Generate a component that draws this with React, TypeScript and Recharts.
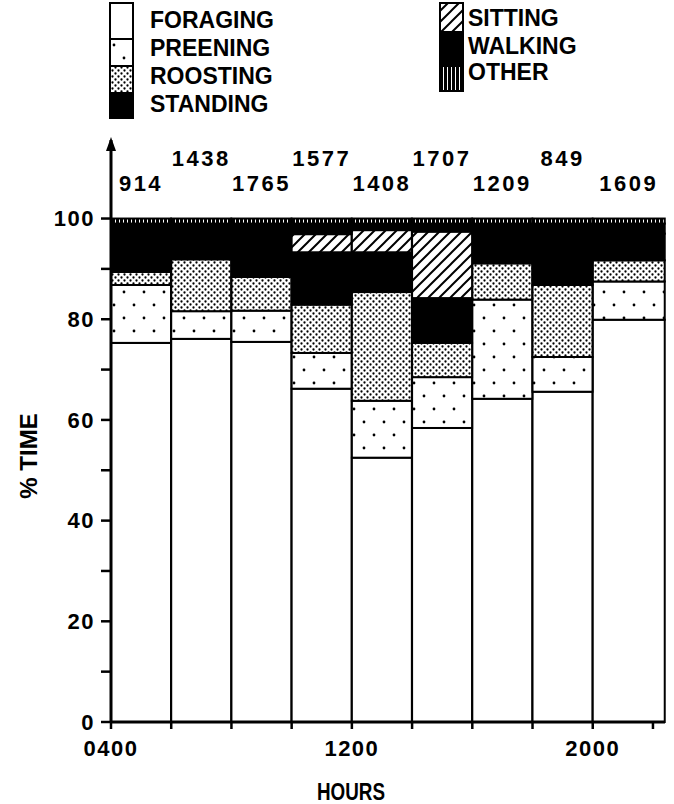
import React from "react";
import { BarChart, Bar, XAxis, YAxis, Legend, LabelList } from "recharts";

// ---- data ----
const periodStart = [4, 6, 8, 10, 12, 14, 16, 18, 20];
const periodEnd = [6, 8, 10, 12, 14, 16, 18, 20, 22.4];
const sampleSizes = [914, 1438, 1765, 1577, 1408, 1707, 1209, 849, 1609];

const foraging = [75.3, 76.1, 75.5, 66.2, 52.5, 58.4, 64.2, 65.6, 79.9];
const preening = [11.5, 5.5, 6.2, 7.1, 11.3, 10.1, 19.7, 6.9, 7.6];
const roosting = [2.6, 10.3, 6.7, 9.6, 21.6, 6.8, 7.2, 14.3, 4.2];
const standing = [7.1, 5.1, 8.6, 10.4, 7.9, 8.9, 5.9, 10.2, 5.3];
const sitting = [0, 0, 0, 3.6, 4.4, 13.2, 0, 0, 0];
const walking = [2.5, 2, 2, 2.1, 1.3, 1.6, 2, 2, 2];
const other = [1, 1, 1, 1, 1, 1, 1, 1, 1];

const xTicks = [4, 6, 8, 10, 12, 14, 16, 18, 20, 22];
const xTickLabels: Record<number, string> = { 4: "0400", 12: "1200", 20: "2000" };
const yTicks = [0, 10, 20, 30, 40, 50, 60, 70, 80, 90, 100];

const seriesKeys = ["foraging", "preening", "roosting", "standing", "sitting", "walking", "other"];
const seriesNames = ["FORAGING", "PREENING", "ROOSTING", "STANDING", "SITTING", "WALKING", "OTHER"];
const seriesValues = [foraging, preening, roosting, standing, sitting, walking, other];

const data = periodStart.map((s, i) => {
  const row: any = { start: s, end: periodEnd[i], mid: s + 1, n: sampleSizes[i] };
  seriesKeys.forEach((k, j) => (row[k] = seriesValues[j][i]));
  return row;
});

const FONT = "'Liberation Sans', Arial, Helvetica, sans-serif";
const LEGEND_H = 125;

const fillFor = (key: string, p: string) => {
  switch (key) {
    case "foraging":
      return "#ffffff";
    case "preening":
      return `url(#${p}preen)`;
    case "roosting":
      return `url(#${p}roost)`;
    case "standing":
      return "#000000";
    case "sitting":
      return `url(#${p}sit)`;
    case "walking":
      return "#000000";
    default:
      return `url(#${p}other)`;
  }
};

const Patterns = ({ p }: { p: string }) => (
  <defs>
    <pattern id={`${p}preen`} width={20} height={26} patternUnits="userSpaceOnUse">
      <rect width={20} height={26} fill="#fff" />
      <circle cx={4} cy={6} r={1.4} fill="#000" />
      <circle cx={14} cy={19} r={1.4} fill="#000" />
    </pattern>
    <pattern id={`${p}roost`} width={6} height={6} patternUnits="userSpaceOnUse">
      <rect width={6} height={6} fill="#fff" />
      <circle cx={1.5} cy={1.5} r={1.15} fill="#000" />
      <circle cx={4.5} cy={4.5} r={1.15} fill="#000" />
    </pattern>
    <pattern id={`${p}sit`} width={11} height={11} patternUnits="userSpaceOnUse">
      <rect width={11} height={11} fill="#fff" />
      <path d="M-2,2 L2,-2 M0,11 L11,0 M9,13 L13,9" stroke="#000" strokeWidth={2} />
    </pattern>
    <pattern id={`${p}other`} width={4} height={4} patternUnits="userSpaceOnUse">
      <rect width={4} height={4} fill="#000" />
      <rect x={3} width={1} height={4} fill="#fff" />
    </pattern>
    <marker
      id={`${p}arrow`}
      viewBox="0 0 14 10"
      markerWidth={14}
      markerHeight={10}
      refX={11}
      refY={5}
      markerUnits="userSpaceOnUse"
      orient="auto-start-reverse"
    >
      <path d="M0,0 L14,5 L0,10 z" fill="#000" />
    </marker>
  </defs>
);

const Segment = (props: any) => {
  const { x, y, width, height, fill, payload } = props;
  if (!height || height <= 0.01 || !payload) return <g />;
  const pxPerHour = width / 2;
  const w = (payload.end - payload.start) * pxPerHour;
  return <rect x={x} y={y} width={w} height={height} fill={fill} stroke="#000" strokeWidth={2} />;
};

const SampleLabel = (props: any) => {
  const vb = props.viewBox || props;
  const { x, y, width } = vb;
  const index = props.index;
  const d = data[index];
  if (!d) return null;
  const cx = x + ((d.end - d.start) * width) / 4;
  const baseline = y - (index % 2 === 1 ? 52.5 : 27.5);
  return (
    <text
      x={cx}
      y={baseline}
      textAnchor="middle"
      fontFamily={FONT}
      fontWeight="bold"
      fontSize={22}
      letterSpacing={2.5}
      fill="#000"
    >
      {props.value}
    </text>
  );
};

const LegendContent = () => {
  const leftSegs = [
    [3, 39],
    [39, 66],
    [66, 93],
    [93, 118],
  ];
  const rightSegs = [
    [3, 32],
    [32, 66],
    [66, 91],
  ];
  const leftBase = [28, 56, 84, 112];
  const rightBase = [26, 54, 80];
  return (
    <svg width={674} height={LEGEND_H} style={{ display: "block" }}>
      <Patterns p="lg" />
      {leftSegs.map((s, i) => (
        <g key={seriesKeys[i]}>
          <rect x={110} y={s[0]} width={23} height={s[1] - s[0]} fill={fillFor(seriesKeys[i], "lg")} stroke="#000" strokeWidth={2} />
          <text x={150} y={leftBase[i]} fontFamily={FONT} fontWeight="bold" fontSize={23} fill="#000">
            {seriesNames[i]}
          </text>
        </g>
      ))}
      {rightSegs.map((s, i) => (
        <g key={seriesKeys[i + 4]}>
          <rect x={440} y={s[0]} width={23} height={s[1] - s[0]} fill={fillFor(seriesKeys[i + 4], "lg")} stroke="#000" strokeWidth={2} />
          <text x={468} y={rightBase[i]} fontFamily={FONT} fontWeight="bold" fontSize={23} fill="#000">
            {seriesNames[i + 4]}
          </text>
        </g>
      ))}
    </svg>
  );
};

const YLabel = () => (
  <text
    x={0}
    y={0}
    transform="translate(37,456) rotate(-90)"
    textAnchor="middle"
    fontFamily={FONT}
    fontWeight="bold"
    fontSize={24}
    fill="#000"
  >
    % TIME
  </text>
);

const XLabel = () => (
  <text
    x={351}
    y={800}
    textAnchor="middle"
    fontFamily={FONT}
    fontWeight="bold"
    fontSize={23}
    textLength={68}
    lengthAdjust="spacingAndGlyphs"
    fill="#000"
  >
    HOURS
  </text>
);

const tickStyle = { fill: "#000", fontSize: 22, fontWeight: "bold", fontFamily: FONT, letterSpacing: 1.5 };

export default function App() {
  return (
    <div style={{ position: "absolute", left: 0, top: 0, width: 674, height: 804, background: "#fff" }}>
      <BarChart
        width={674}
        height={804}
        data={data}
        margin={{ top: 140 - LEGEND_H, right: 9, bottom: 0, left: 0 }}
        barCategoryGap={0}
      >
        <Patterns p="ch" />
        <XAxis
          type="number"
          dataKey="mid"
          domain={[4, 22.4]}
          ticks={xTicks}
          interval={0}
          height={82}
          tickSize={7}
          tickMargin={11}
          tickFormatter={(v: number) => xTickLabels[v] || ""}
          tick={tickStyle}
          axisLine={{ stroke: "#000", strokeWidth: 3 }}
          tickLine={{ stroke: "#000", strokeWidth: 2.5 }}
          label={XLabel}
        />
        <YAxis
          type="number"
          domain={[0, 115.6]}
          ticks={yTicks}
          interval={0}
          width={111}
          tickSize={10}
          tickMargin={6}
          tickFormatter={(v: number) => (v % 20 === 0 ? String(v) : "")}
          tick={tickStyle}
          axisLine={{ stroke: "#000", strokeWidth: 3, markerStart: "url(#charrow)" }}
          tickLine={{ stroke: "#000", strokeWidth: 2.5 }}
          label={YLabel}
        />
        <Legend
          layout="vertical"
          align="center"
          verticalAlign="top"
          wrapperStyle={{ top: 0, left: 0, width: 674, height: LEGEND_H }}
          content={LegendContent}
        />
        {seriesKeys.map((k, j) => (
          <Bar
            key={k}
            dataKey={k}
            name={seriesNames[j]}
            stackId="a"
            fill={fillFor(k, "ch")}
            shape={Segment}
            isAnimationActive={false}
          >
            {k === "other" ? <LabelList dataKey="n" content={SampleLabel} /> : null}
          </Bar>
        ))}
      </BarChart>
    </div>
  );
}
